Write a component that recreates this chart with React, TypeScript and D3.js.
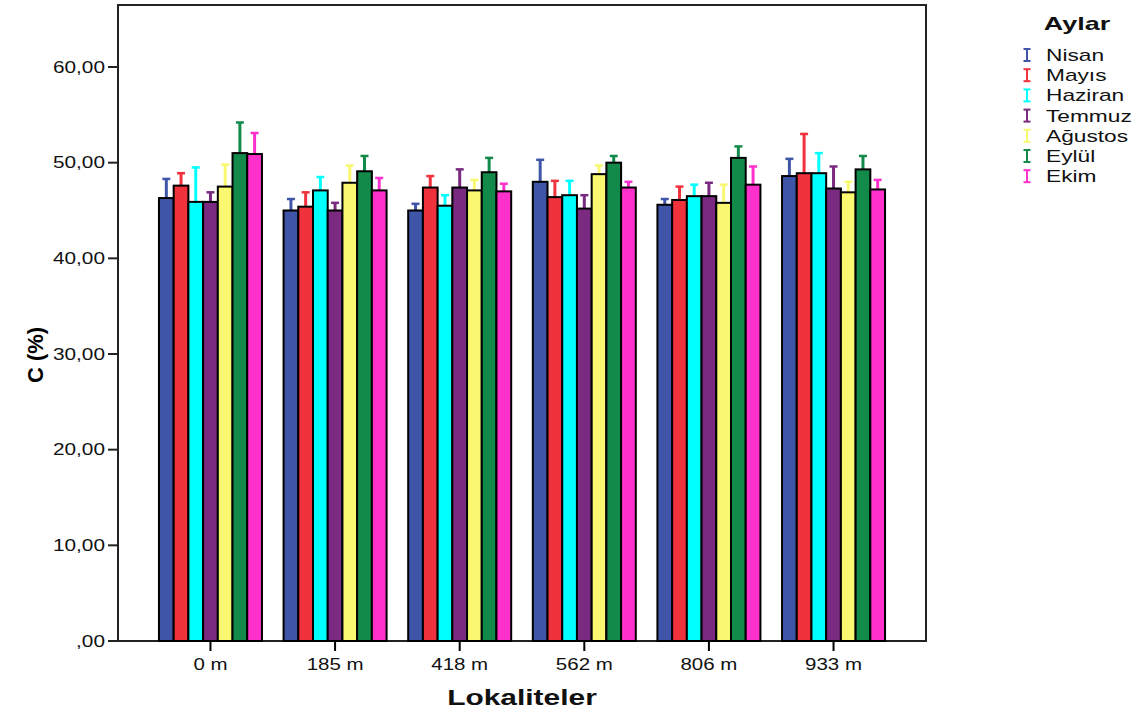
import * as d3 from 'd3'

const sites = ['0 m', '185 m', '418 m', '562 m', '806 m', '933 m']
const months = ['Nisan', 'Mayıs', 'Haziran', 'Temmuz', 'Ağustos', 'Eylül', 'Ekim']
const colors = ['#3f55a8', '#f0323c', '#00ffff', '#7a2a80', '#faf870', '#128a4a', '#ff30cc']

// mean C (%) per month, one array per locality
const means = [
  [46.3, 47.6, 45.9, 45.9, 47.5, 51.0, 50.9],
  [45.0, 45.4, 47.1, 45.0, 47.9, 49.1, 47.1],
  [45.0, 47.4, 45.5, 47.4, 47.1, 49.0, 47.0],
  [48.0, 46.4, 46.6, 45.2, 48.8, 50.0, 47.4],
  [45.6, 46.1, 46.5, 46.5, 45.8, 50.5, 47.7],
  [48.6, 48.9, 48.9, 47.3, 46.9, 49.3, 47.2],
]
// upper end of error bars
const uppers = [
  [48.3, 48.9, 49.5, 46.9, 49.8, 54.2, 53.1],
  [46.2, 46.9, 48.5, 45.8, 49.7, 50.7, 48.4],
  [45.7, 48.6, 46.6, 49.3, 48.2, 50.5, 47.8],
  [50.3, 48.1, 48.1, 46.6, 49.7, 50.7, 48.0],
  [46.2, 47.5, 47.7, 47.9, 47.7, 51.7, 49.6],
  [50.4, 53.0, 51.0, 49.6, 48.0, 50.7, 48.2],
]
const yTicks = [0, 10, 20, 30, 40, 50, 60]

const font = '"Liberation Sans", Arial, sans-serif'
const left = 118
const right = 926
const top = 5
const bottom = 641

// SPSS-like wide text
const Wide = ({ x, y, s, anchor, size, bold, children }: any) => (
  <text
    transform={`translate(${x},${y}) scale(${s},1)`}
    textAnchor={anchor}
    fontSize={size}
    fontWeight={bold ? 'bold' : 'normal'}
    fill="#111"
  >
    {children}
  </text>
)

const App = () => {
  const x = d3.scalePoint<string>().domain(sites).range([left, right]).padding(0.742)
  const inner = d3
    .scaleBand<string>()
    .domain(months)
    .range([-51.5, 51.5])
  const y = d3.scaleLinear().domain([0, 60]).range([bottom, 67])
  const fmt = (v: number) => (v === 0 ? ',00' : v.toFixed(2).replace('.', ','))
  const bw = inner.bandwidth()

  return (
    <svg width={1140} height={713} style={{ position: 'absolute', left: 0, top: 0 }} fontFamily={font}>
      <rect x={0} y={0} width={1140} height={713} fill="#fff" />
      <rect x={left} y={top} width={right - left} height={bottom - top} fill="#fff" stroke="#222" strokeWidth={2} />

      {sites.map((s, i) => (
        <g key={s}>
          {months.map((m, j) => {
            const cx = (x(s) ?? 0) + (inner(m) ?? 0) + bw / 2
            return (
              <g key={m}>
                <line x1={cx} x2={cx} y1={y(means[i][j])} y2={y(uppers[i][j])} stroke={colors[j]} strokeWidth={3} />
                <line x1={cx - 4} x2={cx + 4} y1={y(uppers[i][j])} y2={y(uppers[i][j])} stroke={colors[j]} strokeWidth={2.5} />
              </g>
            )
          })}
          {months.map((m, j) => (
            <rect
              key={m}
              x={(x(s) ?? 0) + (inner(m) ?? 0)}
              y={y(means[i][j])}
              width={bw}
              height={bottom - y(means[i][j])}
              fill={colors[j]}
              stroke="#000"
              strokeWidth={2}
            />
          ))}
          <line x1={x(s)} x2={x(s)} y1={bottom} y2={bottom + 10} stroke="#000" strokeWidth={2} />
          <Wide x={x(s)} y={bottom + 29} s={1.28} anchor="middle" size={16}>
            {s}
          </Wide>
        </g>
      ))}

      {yTicks.map(t => (
        <g key={t}>
          <line x1={left - 10} x2={left} y1={y(t)} y2={y(t)} stroke="#222" strokeWidth={2} />
          <Wide x={left - 13} y={y(t) + 5.5} s={1.3} anchor="end" size={16}>
            {fmt(t)}
          </Wide>
        </g>
      ))}

      <Wide x={522} y={705} s={1.36} anchor="middle" size={22} bold>
        Lokaliteler
      </Wide>
      <text transform="translate(43,355) rotate(-90)" textAnchor="middle" fontSize={22} fontWeight="bold">
        C (%)
      </text>

      <Wide x={1077} y={30} s={1.42} anchor="middle" size={19} bold>
        Aylar
      </Wide>
      {months.map((m, j) => {
        const ly = 55 + j * 20.2
        return (
          <g key={m}>
            <line x1={1027} x2={1027} y1={ly - 6} y2={ly + 6} stroke={colors[j]} strokeWidth={2} />
            <line x1={1023.5} x2={1030.5} y1={ly - 6} y2={ly - 6} stroke={colors[j]} strokeWidth={2} />
            <line x1={1023.5} x2={1030.5} y1={ly + 6} y2={ly + 6} stroke={colors[j]} strokeWidth={2} />
            <Wide x={1046} y={ly + 6} s={1.42} anchor="start" size={16}>
              {m}
            </Wide>
          </g>
        )
      })}
    </svg>
  )
}

export default App
